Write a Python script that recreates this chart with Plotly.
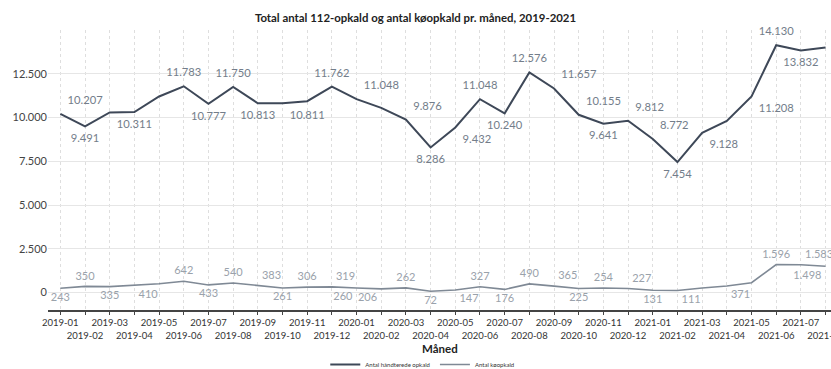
import plotly.graph_objects as go

months = ["2019-01","2019-02","2019-03","2019-04","2019-05","2019-06","2019-07","2019-08",
          "2019-09","2019-10","2019-11","2019-12","2020-01","2020-02","2020-03","2020-04",
          "2020-05","2020-06","2020-07","2020-08","2020-09","2020-10","2020-11","2020-12",
          "2021-01","2021-02","2021-03","2021-04","2021-05","2021-06","2021-07","2021-08"]

handled = [10207, 9491, 10290, 10311, 11200, 11783, 10777, 11750,
           10813, 10811, 10930, 11762, 11048, 10550, 9876, 8286,
           9432, 11048, 10240, 12576, 11657, 10155, 9641, 9812,
           8772, 7454, 9128, 9800, 11208, 14130, 13832, 14000]
handled_labeled = [1,1,0,1,0,1,1,1, 1,1,0,1,1,0,1,1, 1,1,1,1,1,1,1,1, 1,1,1,0,1,1,1,0]

queue = [243, 350, 335, 410, 500, 642, 433, 540,
         383, 261, 306, 319, 260, 206, 262, 72,
         147, 327, 176, 490, 365, 225, 254, 227,
         131, 111, 260, 371, 560, 1596, 1583, 1498]
queue_labeled = [1,1,1,1,0,1,1,1, 1,1,1,1,1,1,1,1, 1,1,1,1,1,1,1,1, 1,1,0,1,0,1,1,1]

y_ticks = [0, 2500, 5000, 7500, 10000, 12500]

title = "Total antal 112-opkald og antal køopkald pr. måned, 2019-2021"
x_title = "Måned"
names = ["Antal håndterede opkald", "Antal køopkald"]

# label placement (style)
pos_h = ["top right","bottom center","top center","bottom center","top center","top center",
         "bottom center","top center","bottom center","bottom right","top center","top center",
         "top right","top center","top right","bottom center","bottom right","top center",
         "bottom center","top center","top right","top right","bottom center","top right",
         "top right","bottom center","bottom right","top center","bottom right","top center",
         "bottom center","top center"]
pos_q = ["bottom center","top center","bottom center","bottom right","top center","top center",
         "bottom center","top center","top right","bottom center","top center","top right",
         "bottom left","bottom left","top center","bottom center","bottom right","top center",
         "bottom center","top center","top right","bottom center","top center","top right",
         "bottom center","bottom right","top center","bottom right","top center","top center",
         "top right","bottom left"]

def fmt(v):
    return f"{v:,}".replace(",", ".")

text_h = [fmt(v) if l else "" for v, l in zip(handled, handled_labeled)]
text_q = [fmt(v) if l else "" for v, l in zip(queue, queue_labeled)]

ticktext = [m if i % 2 == 0 else "<br>" + m for i, m in enumerate(months)]

font = "Lato, 'Open Sans', sans-serif"

fig = go.Figure()
fig.add_trace(go.Scatter(
    x=months, y=handled, mode="lines", name=names[0],
    line=dict(color="#3e4858", width=2),
))
fig.add_trace(go.Scatter(
    x=months, y=queue, mode="lines", name=names[1],
    line=dict(color="#7f8995", width=1.6),
))
fig.add_trace(go.Scatter(
    x=months, y=handled, mode="markers+text", showlegend=False, hoverinfo="skip",
    marker=dict(size=10, opacity=0),
    text=text_h, textposition=pos_h,
    textfont=dict(size=11.2, color="#737d8a", family=font),
    cliponaxis=False,
))
fig.add_trace(go.Scatter(
    x=months, y=queue, mode="markers+text", showlegend=False, hoverinfo="skip",
    marker=dict(size=5, opacity=0),
    text=text_q, textposition=pos_q,
    textfont=dict(size=11, color="#9aa2ab", family=font),
    cliponaxis=False,
))

fig.update_layout(
    width=831, height=369,
    margin=dict(l=48, r=0, t=30, b=59),
    plot_bgcolor="white", paper_bgcolor="white",
    separators=",.",
    font=dict(family=font, color="#333333"),
    title=dict(text="<b>" + title + "</b>", x=0.5, xanchor="center", y=0.95, yanchor="middle",
               font=dict(size=11.4, color="#222222", family=font)),
    showlegend=True,
    legend=dict(orientation="h", x=0.478, xanchor="center",
                yref="container", y=0.012, yanchor="middle",
                font=dict(size=6, color="#333333"), itemwidth=30, tracegroupgap=0,
                bgcolor="rgba(0,0,0,0)"),
    annotations=[dict(text="<b>" + x_title + "</b>", xref="paper", yref="paper",
                      x=0.5, y=-0.136, xanchor="center", yanchor="middle", showarrow=False,
                      font=dict(size=11.5, color="#222222", family=font))],
)
fig.update_xaxes(
    type="category", categoryorder="array", categoryarray=months,
    range=[-0.5, 31.22],
    tickmode="array", tickvals=months, ticktext=ticktext, tickangle=0,
    tickfont=dict(size=9.5, color="#333333"),
    ticks="outside", ticklen=3, tickcolor="#444444",
    showline=True, linecolor="#444444", linewidth=1.5,
    showgrid=True, gridcolor="#dedede", griddash="dot", gridwidth=1,
    automargin=False,
)
fig.update_yaxes(
    range=[-1000, 15000],
    tickvals=y_ticks, ticktext=[fmt(v) for v in y_ticks],
    tickfont=dict(size=11, color="#444444"),
    showgrid=True, gridcolor="#e6e6e6", gridwidth=1,
    zeroline=False, showline=False, ticks="",
    automargin=False,
)

fig.write_html("out.html")
